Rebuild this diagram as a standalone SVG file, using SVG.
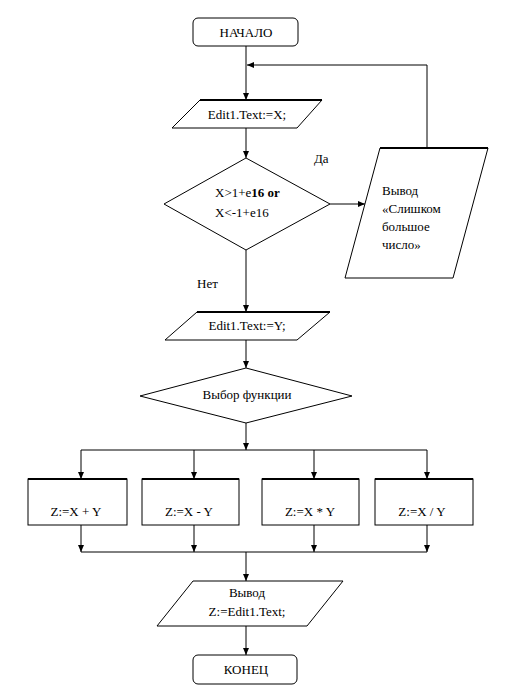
<svg xmlns="http://www.w3.org/2000/svg" width="507" height="696" viewBox="0 0 507 696">
<style>
.s{fill:#fff;stroke:#000;stroke-width:1}
.t{font-family:'Liberation Serif','Times New Roman',serif;font-size:13px;fill:#000}
.c{text-anchor:middle}
.l{fill:none;stroke:#000;stroke-width:1}
.thick{stroke:#000;stroke-width:2}
</style>
<defs>
<marker id="a" markerUnits="userSpaceOnUse" markerWidth="8" markerHeight="8" refX="7" refY="4" orient="auto">
<path d="M0,1 L7,4 L0,7 Z" fill="#000"/>
</marker>
</defs>
<rect width="507" height="696" fill="#fff"/>
<g id="connectors">
<path class="l" d="M246,46 V100" marker-end="url(#a)"/>
<path class="l" d="M427,148 V65 H247" marker-end="url(#a)"/>
<path class="l" d="M246,128 V158" marker-end="url(#a)"/>
<path class="l" d="M330,204 H365" stroke-width="2" marker-end="url(#a)"/>
<path class="l" d="M246,250 V312" marker-end="url(#a)"/>
<path class="l" d="M246,340 V368" marker-end="url(#a)"/>
<path class="l" d="M246,423 V450" marker-end="url(#a)"/>
<path class="l" d="M81,450 H427"/>
<path class="l" d="M81,450 V479" marker-end="url(#a)"/>
<path class="l" d="M194,450 V479" marker-end="url(#a)"/>
<path class="l" d="M314,450 V479" marker-end="url(#a)"/>
<path class="l" d="M427,450 V479" marker-end="url(#a)"/>
<path class="l" d="M81,525 V552" marker-end="url(#a)"/>
<path class="l" d="M194,525 V552" marker-end="url(#a)"/>
<path class="l" d="M314,525 V552" marker-end="url(#a)"/>
<path class="l" d="M427,525 V552" marker-end="url(#a)"/>
<path class="l" d="M81,552 H427"/>
<path class="l" d="M246,552 V581" marker-end="url(#a)"/>
<path class="l" d="M246,626 V655" marker-end="url(#a)"/>
<text class="t" x="314" y="163">Да</text>
<text class="t" x="197" y="288">Нет</text>
</g>
<g id="start">
<rect class="s" x="193" y="18" width="105" height="28" rx="5" stroke-width="2"/>
<text class="t c" x="246" y="37">НАЧАЛО</text>
</g>
<g id="inputX">
<path class="s" d="M200,100 H322 L297,128 H172 Z"/>
<path class="thick" d="M200,100 H322"/>
<text class="t c" x="247" y="119">Edit1.Text:=X;</text>
</g>
<g id="check">
<path class="s" d="M246,158 L330,204 L246,250 L164,204 Z"/>
<text class="t" x="215" y="197">X&gt;1+e<tspan font-weight="bold">16 or</tspan></text>
<text class="t" x="215" y="217">X&lt;-1+e16</text>
</g>
<g id="tooBig">
<path class="s" d="M380,148 H488 L453,278 H345 Z"/>
<path class="thick" d="M380,148 H488"/>
<text class="t" x="382" y="195">Вывод</text>
<text class="t" x="382" y="213">«Слишком</text>
<text class="t" x="382" y="231">большое</text>
<text class="t" x="382" y="249">число»</text>
</g>
<g id="inputY">
<path class="s" d="M197,312 H330 L297,340 H165 Z"/>
<path class="thick" d="M197,312 H330"/>
<text class="t c" x="247" y="330">Edit1.Text:=Y;</text>
</g>
<g id="choice">
<path class="s" d="M246,368 L352,396 L246,423 L140,396 Z"/>
<text class="t c" x="247" y="399">Выбор функции</text>
</g>
<g id="add">
<rect class="s" x="28" y="479" width="99" height="46"/>
<path class="thick" d="M28,479 H127"/>
<text class="t c" x="76" y="516">Z:=X + Y</text>
</g>
<g id="sub">
<rect class="s" x="142" y="479" width="97" height="46"/>
<path class="thick" d="M142,479 H239"/>
<text class="t c" x="189" y="516">Z:=X - Y</text>
</g>
<g id="mul">
<rect class="s" x="262" y="479" width="97" height="46"/>
<path class="thick" d="M262,479 H359"/>
<text class="t c" x="310" y="516">Z:=X * Y</text>
</g>
<g id="div">
<rect class="s" x="375" y="479" width="98" height="46"/>
<path class="thick" d="M375,479 H473"/>
<text class="t c" x="422" y="516">Z:=X / Y</text>
</g>
<g id="output">
<path class="s" d="M193,581 H343 L307,626 H157 Z"/>
<text class="t c" x="247" y="597">Вывод</text>
<text class="t c" x="247" y="616">Z:=Edit1.Text;</text>
</g>
<g id="end">
<rect class="s" x="193" y="655" width="104" height="29" rx="5" stroke-width="2"/>
<text class="t c" x="246" y="674">КОНЕЦ</text>
</g>
</svg>
